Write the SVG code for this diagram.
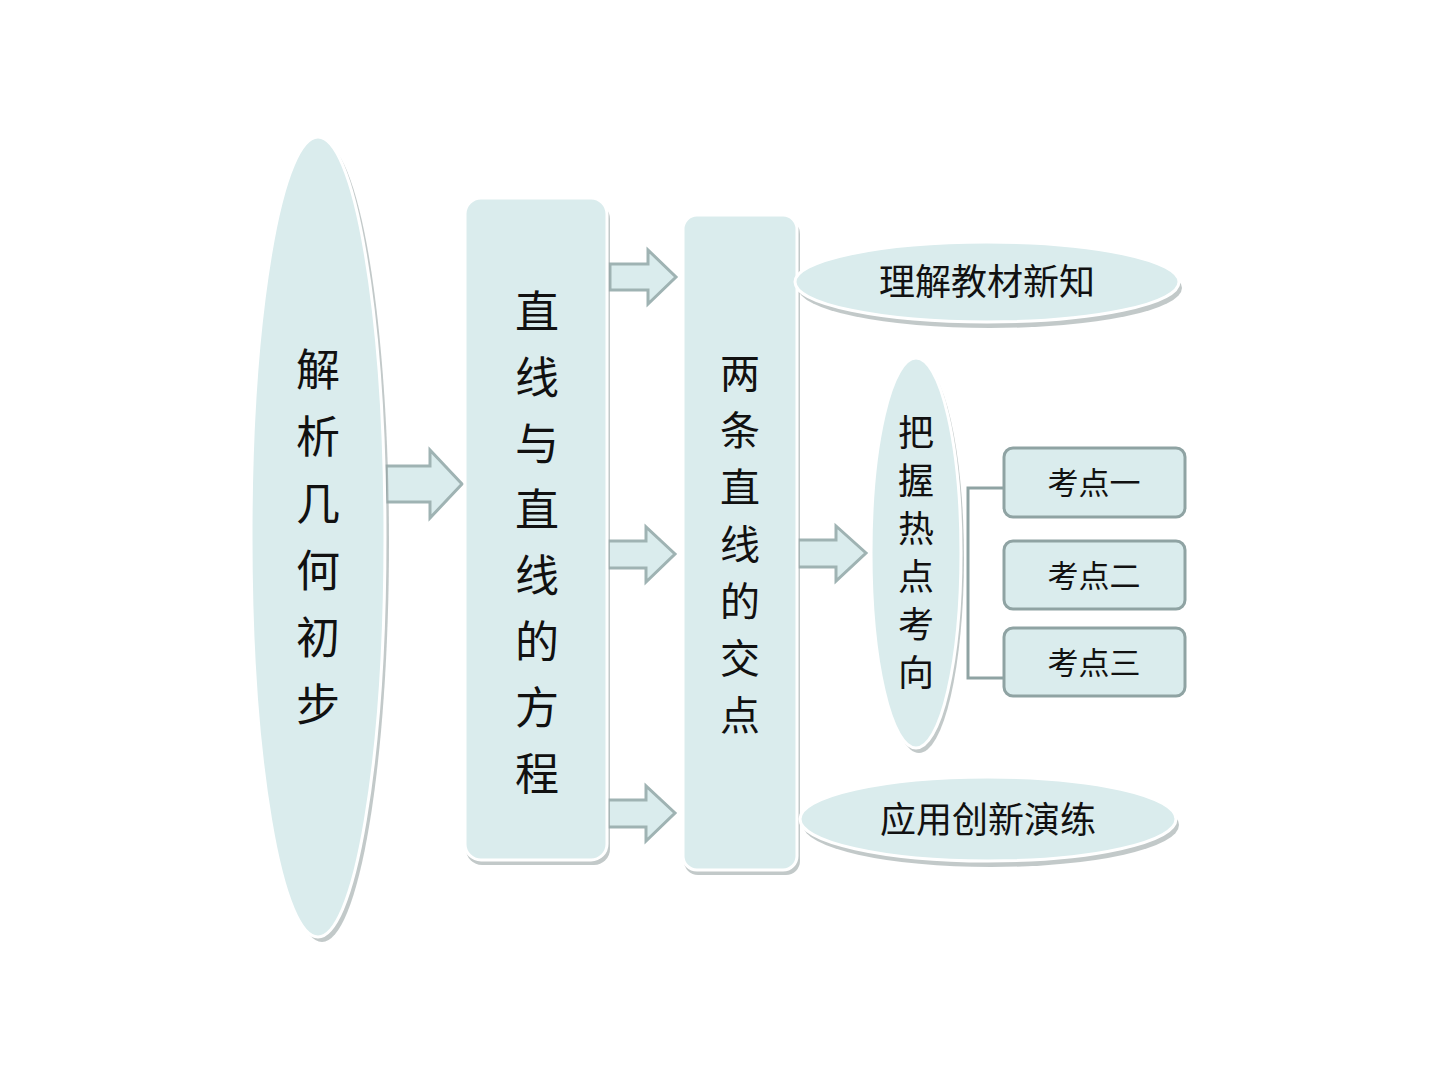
<svg xmlns="http://www.w3.org/2000/svg" width="1440" height="1080" viewBox="0 0 1440 1080">
<style>
.n{fill:#daeced;stroke:#ffffff;stroke-width:3}
.sh{fill:#9aa5a5;opacity:0.6}
.b{fill:#daeced;stroke:#8fa3a3;stroke-width:3}
.ar{fill:#daeced;stroke:#9fb3b3;stroke-width:3;stroke-linejoin:miter}
text{font-family:"Liberation Serif","Noto Sans CJK SC",serif;fill:#111;text-anchor:middle}
.v{font-size:44px}
.m{font-size:40px}
.s{font-size:36px}
.t{font-size:31px}
</style>
<rect width="1440" height="1080" fill="#fff"/>
<g id="connectors">
<path class="ar" d="M386,466 H430 V450 L462,484 L430,518 V502 H386 Z"/>
<path class="ar" d="M610,264 H648 V250 L676,277 L648,304 V290 H610 Z"/>
<path class="ar" d="M608,541 H646 V527 L675,554 L646,582 V568 H608 Z"/>
<path class="ar" d="M608,800 H646 V786 L675,813 L646,841 V827 H608 Z"/>
<path class="ar" d="M798,540 H836 V526 L866,553 L836,581 V567 H798 Z"/>
<path d="M1004,488 H968 V678 H1004" fill="none" stroke="#8fa3a3" stroke-width="3"/>
</g>
<g id="n1"><ellipse class="sh" cx="322" cy="542" rx="67" ry="400"/><ellipse class="n" cx="318" cy="537" rx="67" ry="400"/>
<text class="v" x="318" y="386">解</text><text class="v" x="318" y="453">析</text><text class="v" x="318" y="520">几</text><text class="v" x="318" y="587">何</text><text class="v" x="318" y="654">初</text><text class="v" x="318" y="721">步</text></g>
<g id="n2"><rect class="sh" x="466" y="203" width="144" height="662" rx="16"/><rect class="n" x="465" y="198" width="142" height="662" rx="16"/>
<text class="v" x="537" y="328">直</text><text class="v" x="537" y="394">线</text><text class="v" x="537" y="460">与</text><text class="v" x="537" y="526">直</text><text class="v" x="537" y="592">线</text><text class="v" x="537" y="658">的</text><text class="v" x="537" y="724">方</text><text class="v" x="537" y="790">程</text></g>
<g id="n3"><rect class="sh" x="684" y="220" width="116" height="655" rx="14"/><rect class="n" x="683" y="215" width="114" height="655" rx="14"/>
<text class="m" x="740" y="388">两</text><text class="m" x="740" y="445">条</text><text class="m" x="740" y="502">直</text><text class="m" x="740" y="559">线</text><text class="m" x="740" y="616">的</text><text class="m" x="740" y="673">交</text><text class="m" x="740" y="730">点</text></g>
<g id="n4"><ellipse class="sh" cx="990" cy="288" rx="192" ry="40"/><ellipse class="n" cx="987" cy="282" rx="192" ry="40"/><text class="s" x="987" y="295">理解教材新知</text></g>
<g id="n5"><ellipse class="sh" cx="919" cy="558" rx="45" ry="195"/><ellipse class="n" cx="916" cy="553" rx="45" ry="195"/>
<text class="s" x="916" y="446">把</text><text class="s" x="916" y="494">握</text><text class="s" x="916" y="542">热</text><text class="s" x="916" y="590">点</text><text class="s" x="916" y="638">考</text><text class="s" x="916" y="686">向</text></g>
<g id="n6"><ellipse class="sh" cx="991" cy="825" rx="188" ry="42"/><ellipse class="n" cx="988" cy="819" rx="188" ry="42"/><text class="s" x="988" y="833">应用创新演练</text></g>
<g id="n7"><rect class="b" x="1004" y="448" width="181" height="69" rx="9"/><text class="t" x="1094" y="494">考点一</text></g>
<g id="n8"><rect class="b" x="1004" y="541" width="181" height="68" rx="9"/><text class="t" x="1094" y="587">考点二</text></g>
<g id="n9"><rect class="b" x="1004" y="628" width="181" height="68" rx="9"/><text class="t" x="1094" y="674">考点三</text></g>
</svg>
